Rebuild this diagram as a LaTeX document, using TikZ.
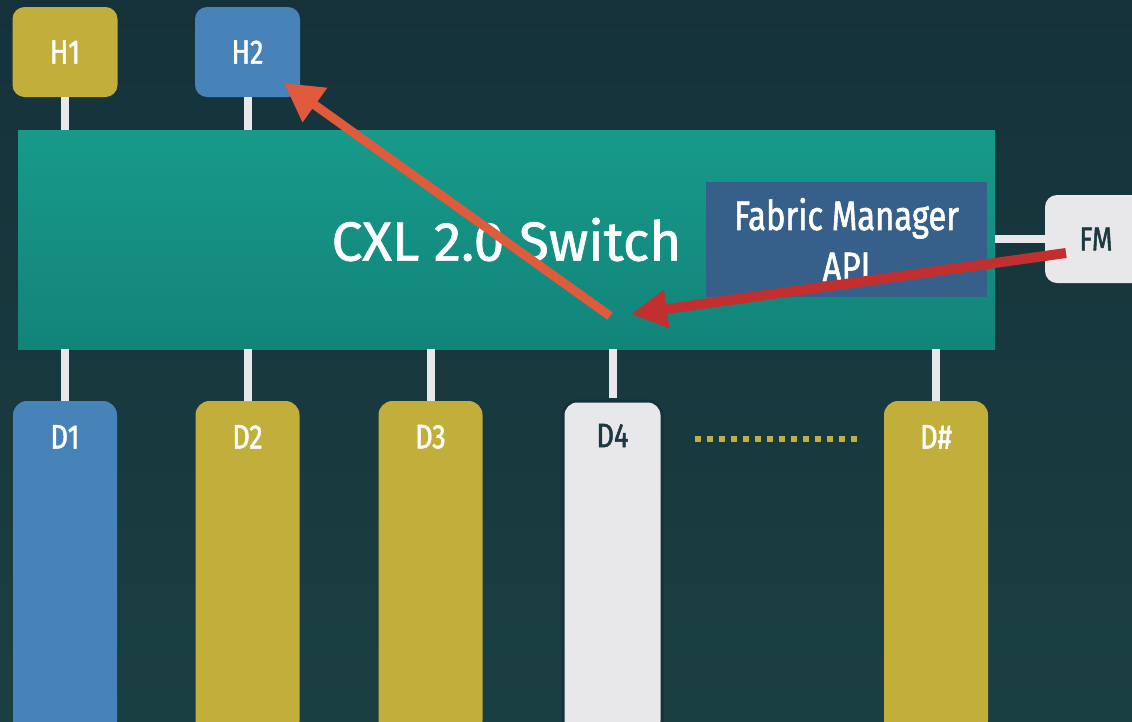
\documentclass[tikz,border=0pt]{standalone}
\usepackage{fontspec}
\setmainfont{Fira Sans}[FakeBold=1.2]
\newfontfamily\narrowfont[FakeStretch=0.8,FakeBold=1.4]{Fira Sans}
\usetikzlibrary{arrows.meta}

\definecolor{bgtop}{HTML}{15323A}
\definecolor{bgbot}{HTML}{1A3F42}
\definecolor{swtop}{HTML}{179A8A}
\definecolor{swbot}{HTML}{12847A}
\definecolor{gold}{HTML}{C2AE3A}
\definecolor{hostblue}{HTML}{4782B9}
\definecolor{light}{HTML}{E8E8EA}
\definecolor{fmapi}{HTML}{366089}
\definecolor{darktext}{HTML}{1B3A40}
\definecolor{orangearrow}{HTML}{E05B3C}
\definecolor{redarrow}{HTML}{C12F2F}

\tikzset{
  hostbox/.style={rounded corners=12pt, inner sep=0pt, minimum width=105pt,
    minimum height=90pt, text=white, font=\narrowfont\fontsize{34}{34}\selectfont},
  devbox/.style={rounded corners=14pt, inner sep=0pt, minimum width=104pt,
    minimum height=334pt},
  devlabel/.style={inner sep=0pt, text=white, font=\narrowfont\fontsize{34}{34}\selectfont},
  link/.style={light, line width=8pt},
  flow/.style={line width=9pt, -{Triangle[length=38pt,width=40pt]}},
}

\begin{document}
\begin{tikzpicture}[x=1pt,y=-1pt]
\useasboundingbox (0,0) rectangle (1132,721);
\clip (0,0) rectangle (1132,721);
\shade[top color=bgtop, bottom color=bgbot] (0,0) rectangle (1132,721);

% hosts
\node[hostbox, fill=gold] (h1) at (65,52) {H1};
\node[hostbox, fill=hostblue] (h2) at (247.5,52) {H2};

% switch
\node[shade, top color=swtop, bottom color=swbot, inner sep=0pt,
      minimum width=977pt, minimum height=219pt, text=white,
      font=\fontsize{55}{55}\selectfont] (sw) at (506.5,239.5) {CXL 2.0 Switch};

% fabric manager API block
\node[fill=fmapi, inner sep=0pt, minimum width=281pt, minimum height=115pt,
      text=white, align=center,
      font=\narrowfont\fontsize{41}{51}\selectfont] (api) at (846.5,239.5) {Fabric Manager\\API};

% fabric manager
\node[rounded corners=12pt, fill=light, inner sep=0pt, minimum width=110pt,
      minimum height=88pt, text=darktext,
      font=\narrowfont\fontsize{33}{33}\selectfont] (fm) at (1100,239) {\hspace*{-8pt}FM};

% devices
\node[devbox, fill=hostblue] (d1) at (65,568) {};
\node[devbox, fill=gold] (d2) at (247.5,568) {};
\node[devbox, fill=gold] (d3) at (430.5,568) {};
\node[devbox, fill=light, draw=bgtop, line width=3pt, minimum width=99pt] (d4) at (612.5,568) {};
\node[devbox, fill=gold] (dn) at (936,568) {};

\node[devlabel] (d1l) at ([yshift=-36pt]d1.north) {D1};
\node[devlabel] (d2l) at ([yshift=-36pt]d2.north) {D2};
\node[devlabel] (d3l) at ([yshift=-36pt]d3.north) {D3};
\node[devlabel, text=darktext] (d4l) at ([yshift=-36pt]d4.north) {D4};
\node[devlabel] (dnl) at ([yshift=-36pt]dn.north) {D\#};

% links
\draw[link] (h1.south) -- (h1.south |- sw.north);
\draw[link] (h2.south) -- (h2.south |- sw.north);
\draw[link] (d1.north) -- (d1.north |- sw.south);
\draw[link] (d2.north) -- (d2.north |- sw.south);
\draw[link] (d3.north) -- (d3.north |- sw.south);
\draw[link] ([yshift=1.5pt]d4.north) -- (d4.north |- sw.south);
\draw[link] (dn.north) -- (dn.north |- sw.south);
\draw[link] (fm.west) -- (fm.west -| sw.east);

% more devices
\coordinate (dots-a) at (695,439);
\coordinate (dots-b) at (857,439);
\draw[gold, line width=6pt, dash pattern=on 6pt off 6pt] (dots-a) -- (dots-b);

% binding flow
\coordinate (bind-from) at (610,316);
\coordinate (bind-to) at (284,83);
\coordinate (cmd-from) at (1066,253);
\coordinate (cmd-to) at (631,314);
\draw[flow, orangearrow] (bind-from) -- (bind-to);
\draw[flow, redarrow, line width=10pt, -{Triangle[length=36pt,width=36pt]}] (cmd-from) -- (cmd-to);
\end{tikzpicture}
\end{document}
